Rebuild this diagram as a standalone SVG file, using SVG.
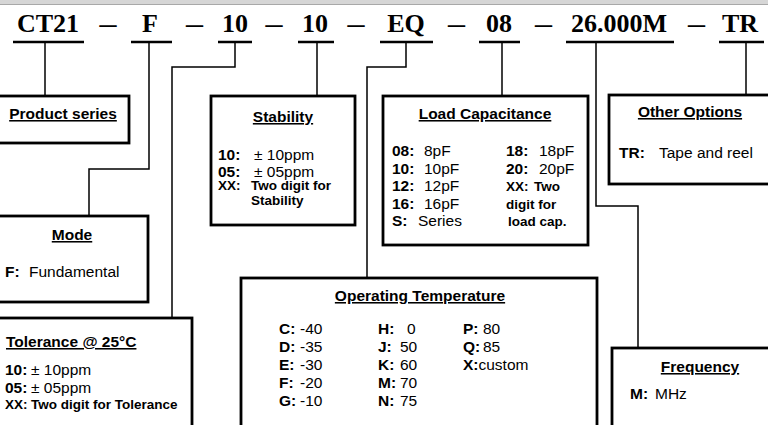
<svg xmlns="http://www.w3.org/2000/svg" width="768" height="425" viewBox="0 0 768 425">
<style>
.t{font-family:"Liberation Serif","Times New Roman",serif;font-weight:bold;font-size:26px;text-anchor:middle;fill:#000}
.u{stroke:#000;stroke-width:2.5;fill:none}
.box{fill:#fff;stroke:#000;stroke-width:2.8}
.c{fill:none;stroke:#000;stroke-width:1.5}
.h{font-family:"Liberation Sans",Arial,sans-serif;font-weight:bold;font-size:15.5px;text-decoration:underline;text-anchor:middle;fill:#000}
.b{font-family:"Liberation Sans",Arial,sans-serif;font-size:15.5px;fill:#000}
.k{font-weight:bold}
.s{font-family:"Liberation Sans",Arial,sans-serif;font-weight:bold;font-size:13.5px;fill:#000}
</style>
<rect x="0" y="0" width="768" height="4" fill="#d6d6d6"/>
<line x1="0" y1="4.5" x2="768" y2="4.5" stroke="#a8a8a8" stroke-width="1"/>
<g id="code">
<text class="t" x="48" y="32">CT21</text>
<text class="t" x="150" y="32">F</text>
<text class="t" x="235" y="32">10</text>
<text class="t" x="315" y="32">10</text>
<text class="t" x="406" y="32">EQ</text>
<text class="t" x="499" y="32">08</text>
<text class="t" x="619" y="32">26.000M</text>
<text class="t" x="740" y="32">TR</text>
<text class="t" x="108" y="32" textLength="17" lengthAdjust="spacingAndGlyphs">–</text>
<text class="t" x="194.5" y="32" textLength="17" lengthAdjust="spacingAndGlyphs">–</text>
<text class="t" x="274" y="32" textLength="17" lengthAdjust="spacingAndGlyphs">–</text>
<text class="t" x="356" y="32" textLength="17" lengthAdjust="spacingAndGlyphs">–</text>
<text class="t" x="456.5" y="32" textLength="17" lengthAdjust="spacingAndGlyphs">–</text>
<text class="t" x="543.5" y="32" textLength="17" lengthAdjust="spacingAndGlyphs">–</text>
<text class="t" x="696.5" y="32" textLength="17" lengthAdjust="spacingAndGlyphs">–</text>
<path class="u" d="M13 42H84M131 42H172M218 42H252M298 42H334M380 42H433M479 42H520M566 42H674M719 42H764"/>
</g>
<g id="connectors">
<path class="c" d="M45 42V96"/>
<path class="c" d="M149 42V169H89V216"/>
<path class="c" d="M235 42V67H172V318"/>
<path class="c" d="M317 42V96"/>
<path class="c" d="M406 42V67H367V278"/>
<path class="c" d="M502 42V96"/>
<path class="c" d="M596 42V206H638V348"/>
<path class="c" d="M746 42V95"/>
</g>
<g id="product-series">
<rect class="box" x="-5" y="96" width="134" height="47"/>
<text class="h" x="63" y="119">Product series</text>
</g>
<g id="mode">
<rect class="box" x="-5" y="216" width="153" height="86"/>
<text class="h" x="72" y="240">Mode</text>
<text class="b" x="5" y="277"><tspan class="k">F:</tspan><tspan x="29">Fundamental</tspan></text>
</g>
<g id="tolerance">
<rect class="box" x="-5" y="318" width="197" height="115"/>
<text class="h" x="6" y="347" style="text-anchor:start">Tolerance @ 25°C</text>
<text class="b" x="5" y="375"><tspan class="k">10:</tspan><tspan x="31">± 10ppm</tspan></text>
<text class="b" x="5" y="392.5"><tspan class="k">05:</tspan><tspan x="31">± 05ppm</tspan></text>
<text class="s" x="5" y="409">XX:<tspan x="31">Two digit for Tolerance</tspan></text>
</g>
<g id="stability">
<rect class="box" x="211" y="96" width="144" height="129"/>
<text class="h" x="283" y="122">Stability</text>
<text class="b" x="218" y="160"><tspan class="k">10:</tspan><tspan x="254">± 10ppm</tspan></text>
<text class="b" x="218" y="176.5"><tspan class="k">05:</tspan><tspan x="254">± 05ppm</tspan></text>
<text class="s" x="218" y="190">XX:<tspan x="251">Two digit for</tspan></text>
<text class="s" x="251" y="205">Stability</text>
</g>
<g id="load-capacitance">
<rect class="box" x="383" y="96" width="205" height="149"/>
<text class="h" x="485" y="119">Load Capacitance</text>
<text class="b" x="392" y="156"><tspan class="k">08:</tspan><tspan x="424">8pF</tspan></text>
<text class="b" x="392" y="173.5"><tspan class="k">10:</tspan><tspan x="424">10pF</tspan></text>
<text class="b" x="392" y="191"><tspan class="k">12:</tspan><tspan x="424">12pF</tspan></text>
<text class="b" x="392" y="208.5"><tspan class="k">16:</tspan><tspan x="424">16pF</tspan></text>
<text class="b" x="392" y="226"><tspan class="k">S:</tspan><tspan x="418">Series</tspan></text>
<text class="b" x="506" y="156"><tspan class="k">18:</tspan><tspan x="539">18pF</tspan></text>
<text class="b" x="506" y="173.5"><tspan class="k">20:</tspan><tspan x="539">20pF</tspan></text>
<text class="s" x="506" y="191">XX:<tspan x="534">Two</tspan></text>
<text class="s" x="506" y="208.5">digit for</text>
<text class="s" x="508" y="226">load cap.</text>
</g>
<g id="other-options">
<rect class="box" x="609" y="95" width="170" height="89"/>
<text class="h" x="690" y="117">Other Options</text>
<text class="b" x="619" y="158"><tspan class="k">TR:</tspan><tspan x="659">Tape and reel</tspan></text>
</g>
<g id="operating-temperature">
<rect class="box" x="241" y="278" width="356" height="155"/>
<text class="h" x="420" y="301">Operating Temperature</text>
<text class="b" x="279" y="334"><tspan class="k">C:</tspan><tspan x="300">-40</tspan></text>
<text class="b" x="279" y="352"><tspan class="k">D:</tspan><tspan x="300">-35</tspan></text>
<text class="b" x="279" y="370"><tspan class="k">E:</tspan><tspan x="300">-30</tspan></text>
<text class="b" x="279" y="388"><tspan class="k">F:</tspan><tspan x="300">-20</tspan></text>
<text class="b" x="279" y="406"><tspan class="k">G:</tspan><tspan x="300">-10</tspan></text>
<text class="b" x="378" y="334"><tspan class="k">H:</tspan><tspan x="407">0</tspan></text>
<text class="b" x="378" y="352"><tspan class="k">J:</tspan><tspan x="400">50</tspan></text>
<text class="b" x="378" y="370"><tspan class="k">K:</tspan><tspan x="400">60</tspan></text>
<text class="b" x="378" y="388"><tspan class="k">M:</tspan><tspan x="400">70</tspan></text>
<text class="b" x="378" y="406"><tspan class="k">N:</tspan><tspan x="400">75</tspan></text>
<text class="b" x="463" y="334"><tspan class="k">P:</tspan><tspan x="483">80</tspan></text>
<text class="b" x="463" y="352"><tspan class="k">Q:</tspan><tspan x="483">85</tspan></text>
<text class="b" x="463" y="370"><tspan class="k">X:</tspan>custom</text>
</g>
<g id="frequency">
<rect class="box" x="612" y="348" width="170" height="85"/>
<text class="h" x="700" y="372">Frequency</text>
<text class="b" x="630" y="399"><tspan class="k">M:</tspan><tspan x="655">MHz</tspan></text>
</g>
</svg>
